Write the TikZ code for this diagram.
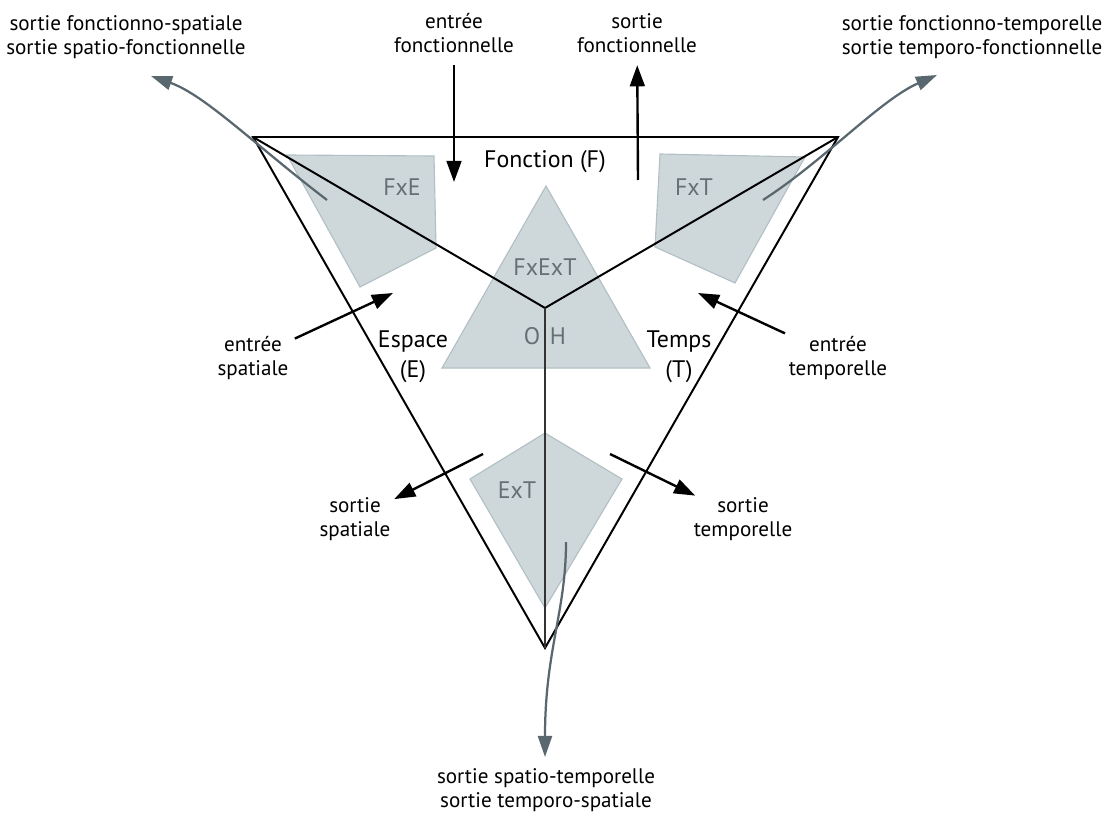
\documentclass[tikz,border=0pt]{standalone}
\usepackage{fontspec}
\setmainfont{PT Sans}
\usetikzlibrary{arrows.meta}
\definecolor{zonefill}{RGB}{206,215,218}
\definecolor{zoneedge}{RGB}{178,192,197}
\definecolor{zonetext}{RGB}{100,112,117}
\definecolor{arrowgray}{RGB}{88,104,110}
\begin{document}
\begin{tikzpicture}[x=0.025cm,y=-0.025cm,inner sep=0pt,outer sep=0pt,
edge/.style={line width=1.4pt},
flow/.style={line width=1.7pt,-{Triangle[length=15pt,width=10.5pt]}},
outflow/.style={line width=1.6pt,draw=arrowgray,-{Triangle[length=15pt,width=10pt,fill=arrowgray]}},
zone/.style={fill=zonefill,draw=zoneedge,line width=0.8pt},
lbl/.style={align=center,font=\fontsize{15}{17}\selectfont},
zonelbl/.style={text=zonetext,font=\fontsize{17}{20}\selectfont},
axislbl/.style={align=center,font=\fontsize{17}{21}\selectfont}]
\useasboundingbox (0,0) rectangle (1104,814);
% corners of the big triangle and its centre
\coordinate (tl) at (253,137);
\coordinate (tr) at (838,137);
\coordinate (bot) at (545,648);
\coordinate (ctr) at (545,308);
% grey zones
\draw[zone] (546,186) -- (650,368) -- (442,368) -- cycle;
\draw[zone] (287,155) -- (434,156) -- (436,248) -- (360,287) -- cycle;
\draw[zone] (660,154) -- (805,157) -- (735,283) -- (655,247) -- cycle;
\draw[zone] (545,433) -- (622,479) -- (545,608) -- (470,479) -- cycle;
\draw (402,187) node[zonelbl] (fxe) {FxE};
\draw (694,187) node[zonelbl] (fxt) {FxT};
\draw (545,267) node[zonelbl] (fxext) {FxExT};
\draw (532,336) node[zonelbl] (oo) {O};
\draw (558,336) node[zonelbl] (hh) {H};
\draw (517,490) node[zonelbl] (ext) {ExT};
% big triangle
\draw[edge,line join=miter] (tl) -- (tr) -- (bot) -- cycle;
\draw[edge] (tl) -- (ctr) -- (tr);
\draw[line width=1.1pt,black!80] (ctr) -- (bot);
\draw (545,162) node[axislbl] (fon) {Fonction (F)};
\draw (413,357) node[axislbl] (esp) {Espace\\(E)};
\draw (679,357) node[axislbl] (tem) {Temps\\(T)};
% inputs
\draw (454,33) node[lbl] (inF) {entrée\\fonctionnelle};
\draw (253,358) node[lbl] (inE) {entrée\\spatiale};
\draw (838,358) node[lbl] (inT) {entrée\\temporelle};
\coordinate (inFtip) at (454,182);
\coordinate (inEtip) at (393,293);
\coordinate (inTtip) at (698,293);
\draw[flow,shorten <=9pt] (inF) -- (inFtip);
\draw[flow,shorten <=5pt] (inE) -- (inEtip);
\draw[flow,shorten <=5pt] (inT) -- (inTtip);
% outputs
\draw (637,33) node[lbl] (outF) {sortie\\fonctionnelle};
\draw (355,519) node[lbl] (outE) {sortie\\spatiale};
\draw (743,519) node[lbl] (outT) {sortie\\temporelle};
\coordinate (outFtail) at (638,180);
\coordinate (outEtail) at (483,454);
\coordinate (outTtail) at (610,454);
\draw[flow,shorten >=9pt] (outFtail) -- (outF);
\draw[flow,shorten >=3pt] (outEtail) -- (outE);
\draw[flow,shorten >=3pt] (outTtail) -- (outT);
% combined outputs
\draw (126,37) node[lbl] (outFE) {sortie fonctionno-spatiale\\sortie spatio-fonctionnelle};
\draw (972,37) node[lbl] (outFT) {sortie fonctionno-temporelle\\sortie temporo-fonctionnelle};
\draw (546,790) node[lbl] (outET) {sortie spatio-temporelle\\sortie temporo-spatiale};
\coordinate (feStart) at (327,200);
\coordinate (feTip) at (151,76);
\coordinate (ftStart) at (763,200);
\coordinate (ftTip) at (937,75);
\coordinate (etStart) at (566,542);
\coordinate (etTip) at (545,757);
\draw[outflow] (feStart) .. controls (255,145) and (205,95) .. (feTip);
\draw[outflow] (ftStart) .. controls (825,160) and (880,100) .. (ftTip);
\draw[outflow] (etStart) .. controls (566,612) and (545,650) .. (etTip);
\end{tikzpicture}
\end{document}
